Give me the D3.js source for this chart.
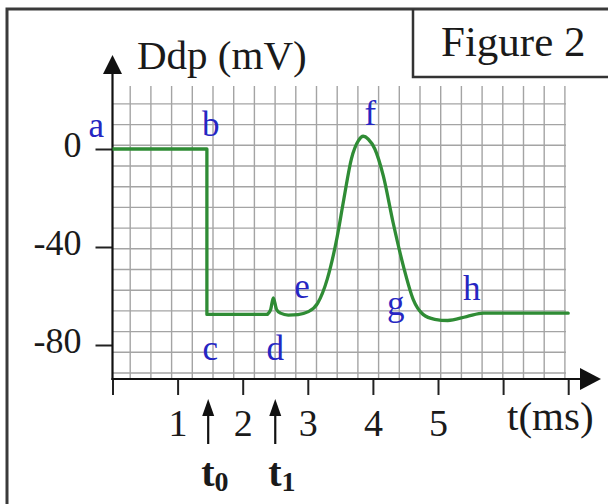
<!DOCTYPE html>
<html>
<head>
<meta charset="utf-8">
<script src="https://cdn.jsdelivr.net/npm/d3@7"></script>
<style>
  html, body { margin: 0; padding: 0; background: #fff; }
  svg { display: block; }
  text { font-family: "Liberation Serif", "Times New Roman", serif; }
</style>
</head>
<body>
<svg id="chart" width="608" height="504"></svg>
<script>
// ---- data ----
const stepTimes = [0, 1.45, 1.45, 2.38];
const stepDdp   = [0, 0, -67.5, -67.5];
const smoothTimes = [2.38, 2.43, 2.47, 2.52, 2.58, 2.7, 2.85, 3.0, 3.15, 3.3, 3.45, 3.55, 3.67, 3.78, 3.85, 3.93, 4.03, 4.16, 4.31, 4.47, 4.62, 4.77, 4.95, 5.15, 5.44, 5.7, 6.0, 7.0];
const smoothDdp   = [-67.5, -65.5, -60.8, -65.5, -67, -67.8, -67.6, -66.5, -63, -53, -36, -21, -4, 3.5, 5.2, 4, 0, -11, -30, -48, -61.5, -67.5, -69.5, -70, -68.4, -67, -67, -67];
const yTicks = [0, -40, -80];
const xTicks = [0, 1, 2, 3, 4, 5, 6, 7];
const xTickLabels = ["", "1", "2", "3", "4", "5", "", ""];
const pointLetters = ["a", "b", "c", "d", "e", "f", "g", "h"];
const stimulusLabels = ["0", "1"];
const stimulusTimes = [1.47, 2.5];

// ---- layout (styles / positions) ----
const letterAnchors = [[-0.25, 4.9], [1.51, 5.3], [1.50, -86.1], [2.50, -86.1], [2.91, -60.8], [3.96, 9.8], [4.35, -67.8], [5.52, -61.6]];
const axisY = 379;
const svg = d3.select("#chart");
const x = d3.scaleLinear().domain([0, 7]).range([112.5, 568.2]);
const y = d3.scaleLinear().domain([-80, 0]).range([345, 149]);
const serif = '"Liberation Serif", "Times New Roman", serif';

// outer frame
svg.append("path").attr("d", "M7,504V9H608").attr("fill", "none")
  .attr("stroke", "#3a3a3a").attr("stroke-width", 3);
// figure box
svg.append("path").attr("d", "M413,9V77H608").attr("fill", "none")
  .attr("stroke", "#333").attr("stroke-width", 2.5);
svg.append("text").attr("x", 441).attr("y", 56).attr("font-size", 43)
  .attr("fill", "#1a1a1a").text("Figure 2");

// grid
const cell = 20.7, gx0 = 109.5, gxMax = 566, gyBottom = 373, gyTop = 103, gTop = 86;
const grid = svg.append("g").attr("stroke", "#a4a4a4").attr("stroke-width", 1.4);
for (let gx = gx0 + cell; gx <= gxMax + 0.5; gx += cell) {
  grid.append("line").attr("x1", gx).attr("x2", gx).attr("y1", gTop).attr("y2", axisY);
}
for (let gy = gyBottom; gy >= gyTop - 0.5; gy -= cell) {
  grid.append("line").attr("x1", x(0)).attr("x2", gxMax).attr("y1", gy).attr("y2", gy);
}

// y axis
const yAxis = svg.append("g").attr("transform", `translate(${x(0)},0)`)
  .call(d3.axisLeft(y).tickValues(yTicks).tickSize(17).tickPadding(14).tickFormat(d3.format("d")));
yAxis.select(".domain").remove();
yAxis.selectAll("line").attr("stroke", "#222").attr("stroke-width", 2);
yAxis.selectAll("text").attr("font-family", serif).attr("font-size", 36)
  .attr("fill", "#1a1a1a").attr("dy", "0.2em").text(d => d === 0 ? "0" : "-" + Math.abs(d));
svg.append("line").attr("x1", x(0)).attr("x2", x(0)).attr("y1", axisY + 1).attr("y2", 70)
  .attr("stroke", "#111").attr("stroke-width", 2.2);
svg.append("path").attr("d", `M${x(0)},55L${x(0) - 9.5},74L${x(0) + 9.5},74Z`).attr("fill", "#111");
svg.append("text").attr("x", 137).attr("y", 69).attr("font-size", 41).attr("fill", "#1a1a1a").text("Ddp (mV)");

// x axis
const xAxis = svg.append("g").attr("transform", `translate(0,${axisY})`)
  .call(d3.axisBottom(x).tickValues(xTicks).tickSize(16).tickFormat((d, i) => xTickLabels[i]));
xAxis.select(".domain").remove();
xAxis.selectAll("line").attr("stroke", "#222").attr("stroke-width", 2);
xAxis.selectAll("text").attr("font-family", serif).attr("font-size", 38)
  .attr("fill", "#1a1a1a").attr("y", 57).attr("dy", 0);
svg.append("line").attr("x1", x(0) - 1).attr("x2", 584).attr("y1", axisY).attr("y2", axisY)
  .attr("stroke", "#111").attr("stroke-width", 2.2);
svg.append("path").attr("d", `M601,${axisY}L580,${axisY - 11}L580,${axisY + 11}Z`).attr("fill", "#111");
svg.append("text").attr("x", 507).attr("y", 430).attr("font-size", 41).attr("fill", "#1a1a1a").text("t(ms)");

// stimulus arrows
stimulusTimes.forEach((t, i) => {
  const g = svg.append("g");
  g.append("line").attr("x1", x(t)).attr("x2", x(t)).attr("y1", 408).attr("y2", 444)
    .attr("stroke", "#111").attr("stroke-width", 2.2);
  g.append("path").attr("d", `M${x(t)},399L${x(t) - 6},416L${x(t) + 6},416Z`).attr("fill", "#111");
  const tx = g.append("text").attr("x", x(t) - 7).attr("y", 486).attr("font-size", 40)
    .attr("font-weight", "bold").attr("fill", "#1a1a1a");
  tx.append("tspan").text("t");
  tx.append("tspan").attr("font-size", 28).attr("dy", 5).text(stimulusLabels[i]);
});

// curve
const line = d3.line().x(d => x(d[0])).y(d => y(d[1]));
const stepPts = stepTimes.map((t, i) => [t, stepDdp[i]]);
const smoothPts = smoothTimes.map((t, i) => [t, smoothDdp[i]]);
svg.append("path").attr("d", line.curve(d3.curveLinear)(stepPts))
  .attr("fill", "none").attr("stroke", "#2f8c35").attr("stroke-width", 3.3).attr("stroke-linejoin", "round");
svg.append("path").attr("d", line.curve(d3.curveMonotoneX)(smoothPts))
  .attr("fill", "none").attr("stroke", "#2f8c35").attr("stroke-width", 3.3).attr("stroke-linecap", "round");

// point letters
svg.append("g").selectAll("text").data(pointLetters).join("text")
  .attr("x", (d, i) => x(letterAnchors[i][0]))
  .attr("y", (d, i) => y(letterAnchors[i][1]))
  .attr("text-anchor", "middle").attr("font-size", 35).attr("fill", "#2626c2")
  .text(d => d);
</script>
</body>
</html>
